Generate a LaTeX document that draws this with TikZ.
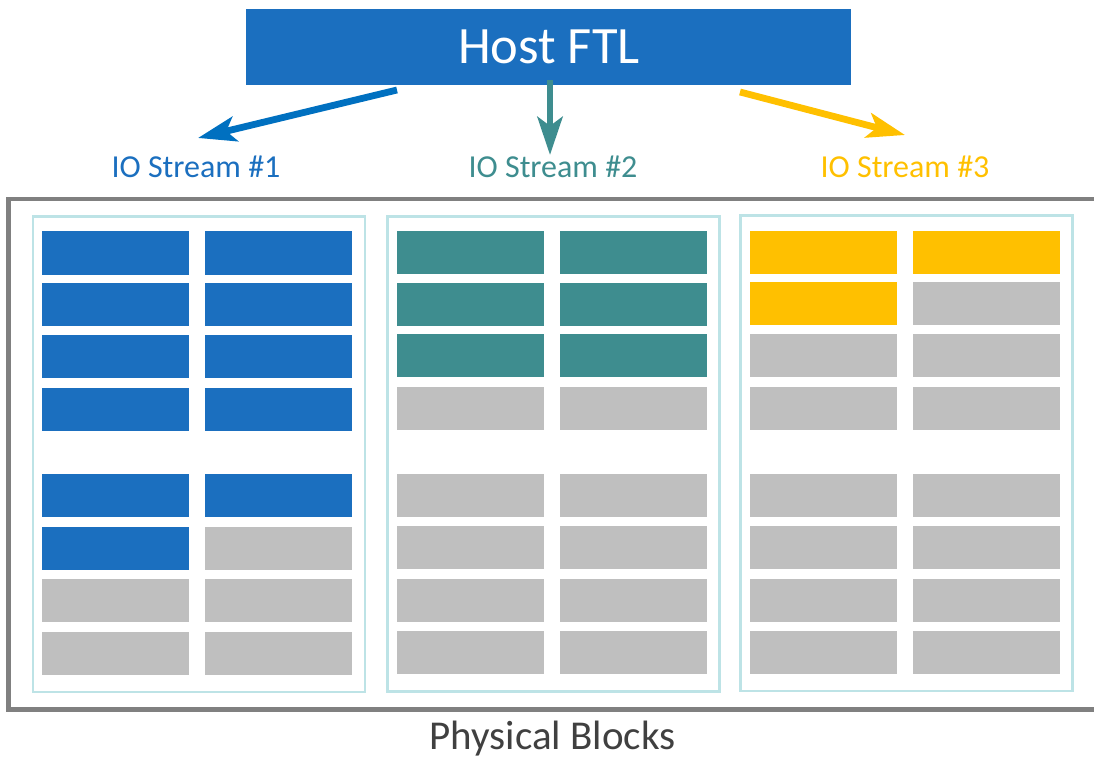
\documentclass[tikz,border=0pt]{standalone}
\usepackage{fontspec}
\setmainfont{Carlito}
\usetikzlibrary{arrows.meta}

\definecolor{ftlblue}{HTML}{1B6FBF}
\definecolor{arrblue}{HTML}{0070C0}
\definecolor{streamteal}{HTML}{3E8D8F}
\definecolor{streamgold}{HTML}{FFC000}
\definecolor{freegray}{HTML}{BFBFBF}
\definecolor{panelline}{HTML}{BDE3E6}
\definecolor{framegray}{HTML}{808080}
\definecolor{captiongray}{HTML}{404040}

\begin{document}
\begin{tikzpicture}[x=1pt,y=-1pt,
  blk/.style={rectangle, inner sep=0pt, outer sep=0pt,
    minimum width=147pt, minimum height=43pt, anchor=north west},
  panel/.style={rectangle, draw=panelline, line width=2.6pt, inner sep=0pt,
    minimum width=332pt, minimum height=475pt, anchor=north west},
  flow/.style={line width=6.8pt,
    -{Stealth[length=38pt,width=25pt,inset=9pt]}},
  lbl/.style={anchor=base, font=\fontsize{32}{38}\selectfont},
]
\useasboundingbox (0,0) rectangle (1094,759);

% outer frame (its right side runs past the page edge)
\draw[framegray, line width=4.6pt] (8.5,199) rectangle (1110,709.5);

% host box
\node[rectangle, fill=ftlblue, inner sep=0pt, minimum width=605pt,
  minimum height=76pt, anchor=north west] (host) at (246,9) {};
\node[anchor=base, text=white, font=\fontsize{52.5}{60}\selectfont]
  (hosttxt) at (549,64) {Host FTL};

% stream labels
\node[lbl, text=ftlblue]     (s1) at (196,178) {IO Stream \#1};
\node[lbl, text=streamteal]  (s2) at (553,178) {IO Stream \#2};
\node[lbl, text=streamgold]  (s3) at (905,178) {IO Stream \#3};

% arrow end points
\coordinate (a1s) at (397,90);  \coordinate (a1e) at (198,138);
\coordinate (a2s) at (550,80);  \coordinate (a2e) at (550,155);
\coordinate (a3s) at (740,92);  \coordinate (a3e) at (905,135);

\draw[flow, arrblue]     (a1s) -- (a1e);
\draw[flow, streamteal]  (a2s) -- (a2e);
\draw[flow, streamgold]  (a3s) -- (a3e);

% panels
\node[panel] (p1) at (31.5,215.5) {};
\node[panel] (p2) at (386,215) {};
\node[panel] (p3) at (739,214.5) {};

% blocks of panel 1
\foreach \top/\cl/\cr [count=\i] in {
  231.5/ftlblue/ftlblue, 283/ftlblue/ftlblue, 334.5/ftlblue/ftlblue,
  387.5/ftlblue/ftlblue, 474/ftlblue/ftlblue, 526.5/ftlblue/freegray,
  579/freegray/freegray, 631.5/freegray/freegray} {
  \node[blk, fill=\cl] (b1-\i-l) at (42,\top) {};
  \node[blk, fill=\cr] (b1-\i-r) at (205,\top) {};
}
% blocks of panel 2
\foreach \top/\cl/\cr [count=\i] in {
  231/streamteal/streamteal, 282.5/streamteal/streamteal,
  334/streamteal/streamteal, 387/freegray/freegray, 473.5/freegray/freegray,
  526/freegray/freegray, 578.5/freegray/freegray, 631/freegray/freegray} {
  \node[blk, fill=\cl] (b2-\i-l) at (397,\top) {};
  \node[blk, fill=\cr] (b2-\i-r) at (560,\top) {};
}
% blocks of panel 3
\foreach \top/\cl/\cr [count=\i] in {
  231/streamgold/streamgold, 282/streamgold/freegray,
  334/freegray/freegray, 387/freegray/freegray, 473.5/freegray/freegray,
  526/freegray/freegray, 578.5/freegray/freegray, 631/freegray/freegray} {
  \node[blk, fill=\cl] (b3-\i-l) at (750,\top) {};
  \node[blk, fill=\cr] (b3-\i-r) at (913,\top) {};
}

% caption
\node[anchor=base, text=captiongray, font=\fontsize{41}{48}\selectfont]
  (cap) at (552.5,749) {Physical Blocks};
\end{tikzpicture}
\end{document}
